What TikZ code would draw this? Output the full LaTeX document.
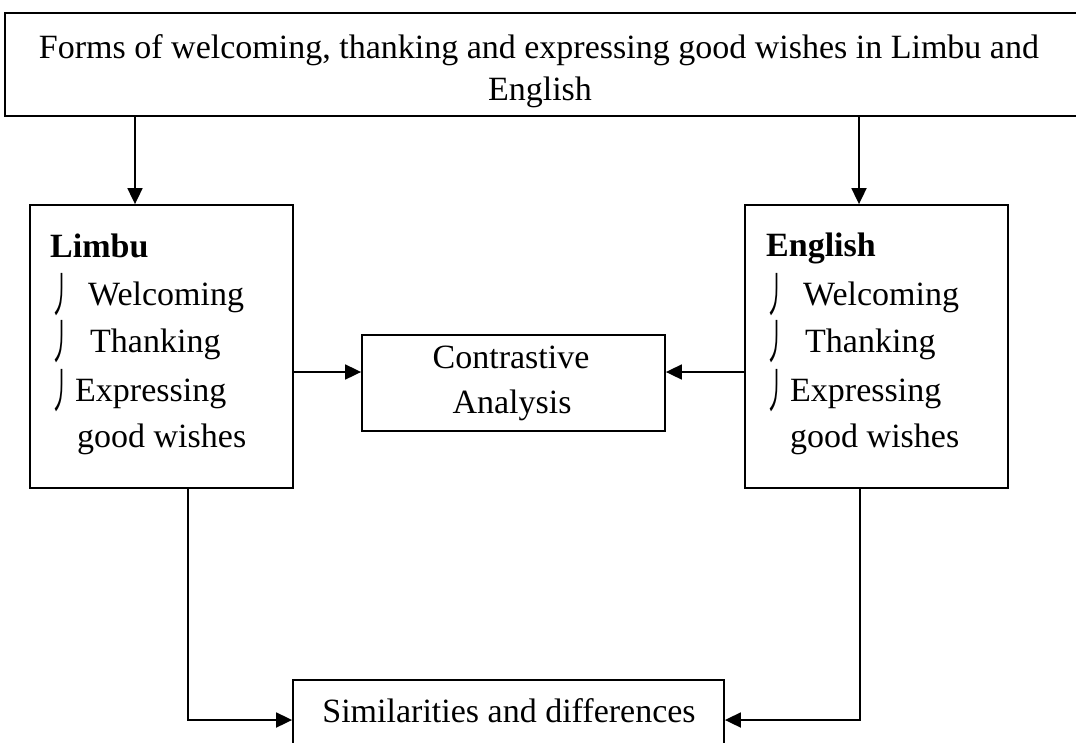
\documentclass[tikz,border=0pt]{standalone}
\usepackage{fontspec}
\setmainfont{Liberation Serif}
\newfontfamily\cjk{Noto Sans CJK SC}
\usetikzlibrary{arrows.meta}
\begin{document}
\begin{tikzpicture}[x=1pt,y=-1pt,
  box/.style={draw,line width=1.8pt,rectangle,inner sep=0pt},
  txt/.style={inner sep=0pt,anchor=base west,font=\fontsize{34}{40}\selectfont},
  ctxt/.style={inner sep=0pt,anchor=base,font=\fontsize{34}{40}\selectfont},
  bul/.style={inner sep=0pt,anchor=base west,font=\cjk\fontsize{30}{40}\selectfont},
  arr/.style={line width=1.8pt,-{Triangle[length=16pt,width=15pt]}}]
\useasboundingbox (0,0) rectangle (1076,742);
% boxes
\node[box,minimum width=1085pt,minimum height=103pt] (top) at (547.5,64.5) {};
\node[box,minimum width=263pt,minimum height=283pt] (limbu) at (161.5,346.5) {};
\node[box,minimum width=263pt,minimum height=283pt] (eng) at (876.5,346.5) {};
\node[box,minimum width=303pt,minimum height=96pt] (ca) at (513.5,383) {};
\node[box,minimum width=431pt,minimum height=90pt] (sim) at (508.5,725) {};
% texts
\node[ctxt] (t1) at (539,58) {Forms of welcoming, thanking and expressing good wishes in Limbu and};
\node[ctxt] (t2) at (540,100) {English};
\node[txt] (lh) at (50,257) {\textbf{Limbu}};
\node[bul] (lb1) at (50,312) {\scalebox{0.7}[1.6]{丿}};
\node[txt] (l1) at (88,305) {Welcoming};
\node[bul] (lb2) at (50,359) {\scalebox{0.7}[1.6]{丿}};
\node[txt] (l2) at (90,352) {Thanking};
\node[bul] (lb3) at (50,408) {\scalebox{0.7}[1.6]{丿}};
\node[txt] (l3) at (75,401) {Expressing};
\node[txt] (l4) at (77,447) {good wishes};
\node[txt] (eh) at (766,256) {\textbf{English}};
\node[bul] (eb1) at (765,312) {\scalebox{0.7}[1.6]{丿}};
\node[txt] (e1) at (803,305) {Welcoming};
\node[bul] (eb2) at (765,359) {\scalebox{0.7}[1.6]{丿}};
\node[txt] (e2) at (805,352) {Thanking};
\node[bul] (eb3) at (765,408) {\scalebox{0.7}[1.6]{丿}};
\node[txt] (e3) at (790,401) {Expressing};
\node[txt] (e4) at (790,447) {good wishes};
\node[ctxt] (c1) at (511,368) {Contrastive};
\node[ctxt] (c2) at (512,413) {Analysis};
\node[ctxt] (s1) at (509,722) {Similarities and differences};
% helper coordinates
\coordinate (tlx) at (135,0);
\coordinate (trx) at (859,0);
\coordinate (cay) at (0,372);
\coordinate (lbx) at (188,0);
\coordinate (rbx) at (860,0);
\coordinate (sy) at (0,720);
% connectors
\draw[arr] (top.south -| tlx) -- (limbu.north -| tlx);
\draw[arr] (top.south -| trx) -- (eng.north -| trx);
\draw[arr] (limbu.east |- cay) -- (ca.west |- cay);
\draw[arr] (eng.west |- cay) -- (ca.east |- cay);
\draw[arr] (limbu.south -| lbx) |- (sim.west |- sy);
\draw[arr] (eng.south -| rbx) |- (sim.east |- sy);
\end{tikzpicture}
\end{document}
